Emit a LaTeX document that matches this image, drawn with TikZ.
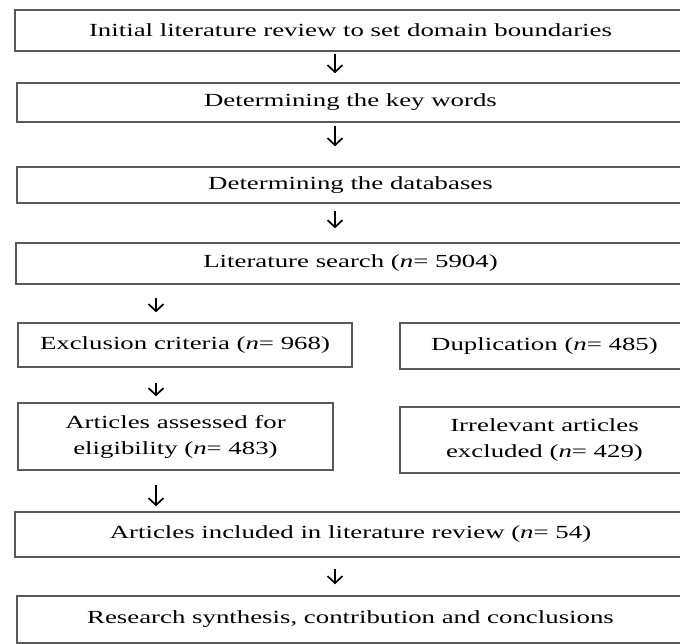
\documentclass[tikz,border=0pt]{standalone}
\usepackage{fontspec}
\setmainfont{Liberation Serif}[FakeStretch=1.45]
\usetikzlibrary{arrows.meta}
\begin{document}
\begin{tikzpicture}[x=1pt,y=-1pt,
  box/.style={draw=black!65, line width=1.5pt, inner sep=0pt, align=center,
    font=\fontsize{18.5}{26}\selectfont},
  arr/.style={line width=1.7pt, -{Straight Barb[length=7pt,width=15pt,line width=1.7pt]}}]
\useasboundingbox (0,0) rectangle (680,644);
\clip (0,0) rectangle (680,644);
\node[box, minimum width=671pt, minimum height=41pt] (b1) at (350.5,30.5) {Initial literature review to set domain boundaries};
\node[box, minimum width=667pt, minimum height=39pt] (b2) at (350.5,102.5) {Determining the key words};
\node[box, minimum width=667pt, minimum height=36pt] (b3) at (350.5,185) {Determining the databases};
\node[box, minimum width=669pt, minimum height=41pt] (b4) at (350.5,263.5) {Literature search (\textit{n}= 5904)};
\node[box, minimum width=334pt, minimum height=44pt] (ex) at (185,345) {Exclusion criteria (\textit{n}= 968)};
\node[box, minimum width=289pt, minimum height=46pt] (dup) at (544.5,346) {Duplication (\textit{n}= 485)};
\node[box, minimum width=315pt, minimum height=67pt] (as) at (175.5,436.5) {Articles assessed for\\eligibility (\textit{n}= 483)};
\node[box, minimum width=289pt, minimum height=66pt] (irr) at (544.5,440) {Irrelevant articles\\excluded (\textit{n}= 429)};
\node[box, minimum width=671pt, minimum height=45pt] (inc) at (350.5,534.5) {Articles included in literature review (\textit{n}= 54)};
\node[box, minimum width=667pt, minimum height=47pt] (fin) at (350.5,619.5) {Research synthesis, contribution and conclusions};
\coordinate (cx) at (335,0);
\coordinate (lx) at (156,0);
\draw[arr, shorten <=2pt, shorten >=9pt] (b1.south -| cx) -- (b2.north -| cx);
\draw[arr, shorten <=3pt, shorten >=20pt] (b2.south -| cx) -- (b3.north -| cx);
\draw[arr, shorten <=7pt, shorten >=14pt] (b3.south -| cx) -- (b4.north -| cx);
\draw[arr, shorten <=13pt, shorten >=10pt] (b4.south -| lx) -- (ex.north -| lx);
\draw[arr, shorten <=15pt, shorten >=6pt] (ex.south -| lx) -- (as.north -| lx);
\draw[arr, shorten <=14pt, shorten >=5pt] (as.south -| lx) -- (inc.north -| lx);
\draw[arr, shorten <=11pt, shorten >=11pt] (inc.south -| cx) -- (fin.north -| cx);
\end{tikzpicture}
\end{document}
